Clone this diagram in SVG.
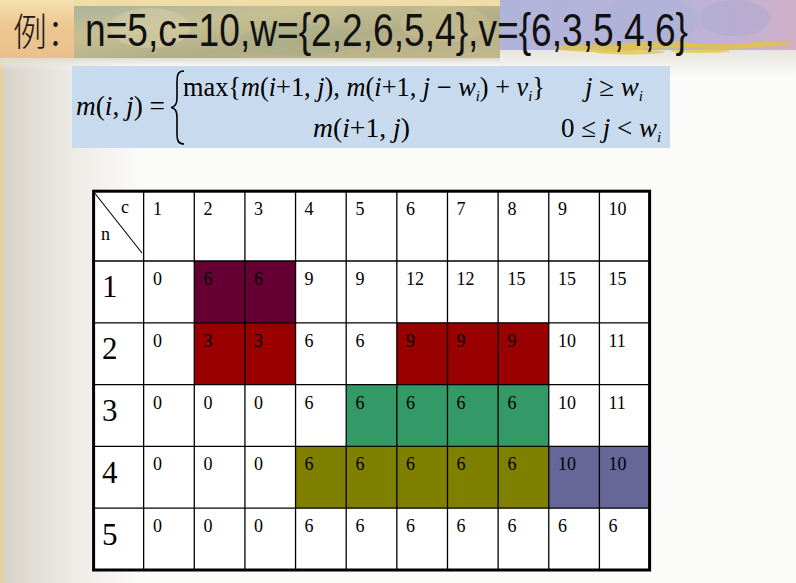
<svg xmlns="http://www.w3.org/2000/svg" width="796" height="583" viewBox="0 0 796 583">
<defs>
<linearGradient id="leftFade" x1="0" y1="0" x2="1" y2="0">
<stop offset="0" stop-color="#d6d2c8"/>
<stop offset="0.55" stop-color="#eeece7"/>
<stop offset="1" stop-color="#fbfbfa"/>
</linearGradient>
<linearGradient id="bandLeft" x1="0" y1="0" x2="0" y2="1">
<stop offset="0" stop-color="#f5e0b0"/>
<stop offset="0.45" stop-color="#eec690"/>
<stop offset="1" stop-color="#e9c08c"/>
</linearGradient>
<linearGradient id="bandMid" x1="0" y1="0" x2="1" y2="1">
<stop offset="0" stop-color="#aab49e"/>
<stop offset="0.3" stop-color="#c6bf92"/>
<stop offset="0.6" stop-color="#b3ae88"/>
<stop offset="1" stop-color="#c2b78c"/>
</linearGradient>
<linearGradient id="bandRight" x1="0" y1="0" x2="1" y2="0">
<stop offset="0" stop-color="#ece9d8"/>
<stop offset="0.2" stop-color="#d2d4e8"/>
<stop offset="0.55" stop-color="#aeb5da"/>
<stop offset="0.85" stop-color="#b8b2d8"/>
<stop offset="1" stop-color="#cfb0c8"/>
</linearGradient>
<linearGradient id="underBand" x1="0" y1="0" x2="0" y2="1">
<stop offset="0" stop-color="#dcd9d2"/>
<stop offset="1" stop-color="#f6f5f2" stop-opacity="0"/>
</linearGradient>
<linearGradient id="underRight" x1="0" y1="0" x2="0" y2="1">
<stop offset="0" stop-color="#e6e3dc"/>
<stop offset="1" stop-color="#fbfbfa"/>
</linearGradient>
<style>
.val{font-family:"Liberation Serif","Times New Roman",serif;font-size:18px;fill:#000}
.row{font-family:"Liberation Serif","Times New Roman",serif;font-size:31px;fill:#000}
.grid{stroke:#000;stroke-width:1.3;fill:none}
.f{font-family:"Liberation Serif","Times New Roman",serif;font-size:27px;fill:#000}
.it{font-style:italic}
.sub{font-size:15px;font-style:italic}
.gr{fill:#e4c440;opacity:0.75}
</style>
</defs>

<g id="background">
<rect x="0" y="0" width="796" height="583" fill="#fbfbfa"/>
<rect x="0" y="55" width="140" height="528" fill="url(#leftFade)"/>
<rect x="0" y="55" width="4" height="528" fill="#e5cfa4"/>
<rect x="500" y="48" width="296" height="30" fill="url(#underRight)"/>
<rect x="0" y="0" width="796" height="50" fill="url(#bandRight)"/>
<rect x="0" y="0" width="74" height="58" fill="url(#bandLeft)"/>
<rect x="74" y="6" width="426" height="52" fill="url(#bandMid)"/>
<rect x="74" y="0" width="426" height="6" fill="#f0dca6"/>
<ellipse cx="150" cy="28" rx="40" ry="20" fill="#d8d0aa" opacity="0.5"/>
<ellipse cx="300" cy="40" rx="60" ry="16" fill="#a3b08a" opacity="0.45"/>
<ellipse cx="445" cy="24" rx="45" ry="18" fill="#cbc292" opacity="0.45"/>
<ellipse cx="650" cy="20" rx="50" ry="22" fill="#a9b1d8" opacity="0.5"/>
<ellipse cx="735" cy="18" rx="35" ry="18" fill="#a7a9d0" opacity="0.45"/>
<g id="grass">
<ellipse class="gr" cx="600" cy="48" rx="45" ry="4"/>
<ellipse class="gr" cx="660" cy="45" rx="40" ry="3.5"/>
<ellipse class="gr" cx="720" cy="46" rx="45" ry="3"/>
<ellipse class="gr" cx="770" cy="44" rx="22" ry="2.5"/>
<ellipse class="gr" cx="630" cy="52" rx="35" ry="2.5"/>
<ellipse class="gr" cx="700" cy="51" rx="30" ry="2"/>
</g>
<rect x="0" y="58" width="500" height="12" fill="url(#underBand)"/>
</g>

<g id="title">
<text x="13" y="45" font-family="'Noto Sans CJK SC','Noto Sans CJK JP',sans-serif" font-size="38" font-weight="300" textLength="68" lengthAdjust="spacingAndGlyphs" fill="#1a1a1a">例：</text>
<text x="0" y="0" transform="translate(85,46) scale(1,1.24)" font-family="'Liberation Sans',Arial,sans-serif" font-size="37" textLength="603" lengthAdjust="spacingAndGlyphs" fill="#111">n=5,c=10,w={2,2,6,5,4},v={6,3,5,4,6}</text>
</g>

<g id="formula">
<rect x="72" y="66" width="598" height="82" fill="#c8dbee"/>
<text class="f" x="76" y="115" textLength="89" lengthAdjust="spacingAndGlyphs"><tspan class="it">m</tspan>(<tspan class="it">i</tspan>, <tspan class="it">j</tspan>) =</text>
<path d="M184,71 C178,71 177,75 177,81 L177,98 C177,104 175,107 171,107.5 C175,108 177,111 177,117 L177,134 C177,140 178,144 184,144" fill="none" stroke="#000" stroke-width="1.6"/>
<text class="f" x="183" y="96" textLength="362" lengthAdjust="spacingAndGlyphs">max{<tspan class="it">m</tspan>(<tspan class="it">i</tspan>+1, <tspan class="it">j</tspan>), <tspan class="it">m</tspan>(<tspan class="it">i</tspan>+1, <tspan class="it">j</tspan> − <tspan class="it">w</tspan><tspan class="sub" dy="5">i</tspan><tspan dy="-5">) + </tspan><tspan class="it">v</tspan><tspan class="sub" dy="5">i</tspan><tspan dy="-5">}</tspan></text>
<text class="f" x="585" y="96"><tspan class="it">j</tspan> ≥ <tspan class="it">w</tspan><tspan class="sub" dy="5">i</tspan></text>
<text class="f" x="313" y="137" textLength="97" lengthAdjust="spacingAndGlyphs"><tspan class="it">m</tspan>(<tspan class="it">i</tspan>+1, <tspan class="it">j</tspan>)</text>
<text class="f" x="561" y="137">0 ≤ <tspan class="it">j</tspan> &lt; <tspan class="it">w</tspan><tspan class="sub" dy="5">i</tspan></text>
</g>

<g id="table">
<rect x="93" y="191" width="557" height="379" fill="#ffffff"/>
<g id="highlights">
<rect x="194.28" y="261" width="101.28" height="61.8" fill="#660033"/>
<rect x="194.28" y="322.8" width="101.28" height="61.8" fill="#990000"/>
<rect x="396.84" y="322.8" width="151.92" height="61.8" fill="#990000"/>
<rect x="346.2" y="384.6" width="202.56" height="61.8" fill="#339966"/>
<rect x="295.56" y="446.4" width="253.2" height="61.8" fill="#808000"/>
<rect x="548.76" y="446.4" width="101.28" height="61.8" fill="#666699"/>
</g>
<g id="gridlines" class="grid">
<line x1="143.64" y1="191" x2="143.64" y2="570"/>
<line x1="194.28" y1="191" x2="194.28" y2="570"/>
<line x1="244.92" y1="191" x2="244.92" y2="570"/>
<line x1="295.56" y1="191" x2="295.56" y2="570"/>
<line x1="346.2" y1="191" x2="346.2" y2="570"/>
<line x1="396.84" y1="191" x2="396.84" y2="570"/>
<line x1="447.48" y1="191" x2="447.48" y2="570"/>
<line x1="498.12" y1="191" x2="498.12" y2="570"/>
<line x1="548.76" y1="191" x2="548.76" y2="570"/>
<line x1="599.4" y1="191" x2="599.4" y2="570"/>
<line x1="93" y1="261" x2="650" y2="261"/>
<line x1="93" y1="322.8" x2="650" y2="322.8"/>
<line x1="93" y1="384.6" x2="650" y2="384.6"/>
<line x1="93" y1="446.4" x2="650" y2="446.4"/>
<line x1="93" y1="508.2" x2="650" y2="508.2"/>
<line x1="95" y1="193.5" x2="142" y2="253" stroke-width="1.1"/>
</g>
<rect x="93.6" y="191.2" width="556" height="378.8" fill="none" stroke="#000" stroke-width="3"/>

<g id="header">
<text class="val" x="121" y="213">c</text>
<text class="val" x="101" y="240">n</text>
<text class="val" x="153" y="215">1</text>
<text class="val" x="203.5" y="215">2</text>
<text class="val" x="254" y="215">3</text>
<text class="val" x="304.5" y="215">4</text>
<text class="val" x="355.5" y="215">5</text>
<text class="val" x="406" y="215">6</text>
<text class="val" x="456.5" y="215">7</text>
<text class="val" x="507.5" y="215">8</text>
<text class="val" x="558" y="215">9</text>
<text class="val" x="608.5" y="215">10</text>
</g>

<g id="row-labels">
<text class="row" x="102" y="297">1</text>
<text class="row" x="102" y="359">2</text>
<text class="row" x="102" y="421">3</text>
<text class="row" x="102" y="483">4</text>
<text class="row" x="102" y="545">5</text>
</g>

<g id="row1">
<text class="val" x="153" y="285">0</text>
<text class="val" x="203.5" y="285">6</text>
<text class="val" x="254" y="285">6</text>
<text class="val" x="304.5" y="285">9</text>
<text class="val" x="355.5" y="285">9</text>
<text class="val" x="406" y="285">12</text>
<text class="val" x="456.5" y="285">12</text>
<text class="val" x="507.5" y="285">15</text>
<text class="val" x="558" y="285">15</text>
<text class="val" x="608.5" y="285">15</text>
</g>
<g id="row2">
<text class="val" x="153" y="346.8">0</text>
<text class="val" x="203.5" y="346.8">3</text>
<text class="val" x="254" y="346.8">3</text>
<text class="val" x="304.5" y="346.8">6</text>
<text class="val" x="355.5" y="346.8">6</text>
<text class="val" x="406" y="346.8">9</text>
<text class="val" x="456.5" y="346.8">9</text>
<text class="val" x="507.5" y="346.8">9</text>
<text class="val" x="558" y="346.8">10</text>
<text class="val" x="608.5" y="346.8">11</text>
</g>
<g id="row3">
<text class="val" x="153" y="408.6">0</text>
<text class="val" x="203.5" y="408.6">0</text>
<text class="val" x="254" y="408.6">0</text>
<text class="val" x="304.5" y="408.6">6</text>
<text class="val" x="355.5" y="408.6">6</text>
<text class="val" x="406" y="408.6">6</text>
<text class="val" x="456.5" y="408.6">6</text>
<text class="val" x="507.5" y="408.6">6</text>
<text class="val" x="558" y="408.6">10</text>
<text class="val" x="608.5" y="408.6">11</text>
</g>
<g id="row4">
<text class="val" x="153" y="470.4">0</text>
<text class="val" x="203.5" y="470.4">0</text>
<text class="val" x="254" y="470.4">0</text>
<text class="val" x="304.5" y="470.4">6</text>
<text class="val" x="355.5" y="470.4">6</text>
<text class="val" x="406" y="470.4">6</text>
<text class="val" x="456.5" y="470.4">6</text>
<text class="val" x="507.5" y="470.4">6</text>
<text class="val" x="558" y="470.4">10</text>
<text class="val" x="608.5" y="470.4">10</text>
</g>
<g id="row5">
<text class="val" x="153" y="532.2">0</text>
<text class="val" x="203.5" y="532.2">0</text>
<text class="val" x="254" y="532.2">0</text>
<text class="val" x="304.5" y="532.2">6</text>
<text class="val" x="355.5" y="532.2">6</text>
<text class="val" x="406" y="532.2">6</text>
<text class="val" x="456.5" y="532.2">6</text>
<text class="val" x="507.5" y="532.2">6</text>
<text class="val" x="558" y="532.2">6</text>
<text class="val" x="608.5" y="532.2">6</text>
</g>
</g>
</svg>
